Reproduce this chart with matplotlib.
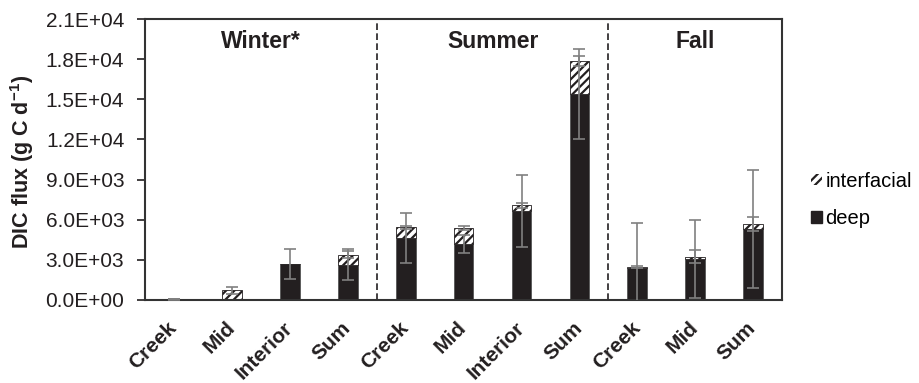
import numpy as np
import matplotlib
matplotlib.use('Agg')
import matplotlib.pyplot as plt
import matplotlib.transforms as mtransforms
from matplotlib.patches import Patch
from matplotlib.ticker import FuncFormatter

plt.rcParams['font.family'] = ['Liberation Sans', 'DejaVu Sans']
plt.rcParams['mathtext.fontset'] = 'custom'
plt.rcParams['mathtext.rm'] = 'Liberation Sans:bold'
plt.rcParams['mathtext.default'] = 'rm'
plt.rcParams['hatch.linewidth'] = 1.6

# DIC flux by site and season (g C per day)
sites = ['Creek', 'Mid', 'Interior', 'Sum',
         'Creek', 'Mid', 'Interior', 'Sum',
         'Creek', 'Mid', 'Sum']
seasons = ['Winter*', 'Summer', 'Fall']
season_sizes = [4, 4, 3]

deep = [40, 0, 2690, 2640, 4630, 4180, 6630, 15390, 2420, 3040, 5300]
interfacial = [10, 730, 0, 745, 800, 1200, 445, 2470, 50, 200, 355]
deep_err = [30, 0, 1150, 1150, 1900, 700, 2700, 3380, 3300, 2900, 4420]
interfacial_err = [10, 270, 0, 250, 100, 150, 200, 370, 50, 500, 530]

deep = np.array(deep)
interfacial = np.array(interfacial)
total = deep + interfacial
x = np.arange(len(sites))

fig = plt.figure(figsize=(9.19, 3.83), dpi=100)
ax = fig.add_axes([0.158, 0.217, 0.693, 0.733])

dark = '#231f20'
ax.bar(x, deep, width=0.34, color=dark, edgecolor='#555555', linewidth=0.6, zorder=2)
ax.bar(x, interfacial, width=0.34, bottom=deep, color='white', edgecolor=dark,
       hatch='////', linewidth=0.6, zorder=2)

# error bars for each stacked series
has_deep = np.array(deep_err) > 0
ax.errorbar(x[has_deep], deep[has_deep], yerr=np.array(deep_err)[has_deep], fmt='none',
            ecolor='#808080', elinewidth=1.2, capsize=4, capthick=1.2, zorder=3)
has_int = np.array(interfacial_err) > 0
ax.errorbar(x[has_int], total[has_int], yerr=np.array(interfacial_err)[has_int], fmt='none',
            ecolor='#808080', elinewidth=1.2, capsize=4, capthick=1.2, zorder=3)

# season separators and headings
edges = np.cumsum(season_sizes)
start = 0
for name, n in zip(seasons, season_sizes):
    ax.text(start + (n - 1) / 2, 19350, name, ha='center', va='center',
            fontsize=16.5, fontweight='bold', color=dark)
    start += n
for e in edges[:-1]:
    ax.axvline(e - 0.5, color=dark, linestyle=(0, (4, 2)), linewidth=1.2, zorder=1)

ax.set_xlim(-0.5, len(sites) - 0.5)
ax.set_ylim(0, 21000)
ax.set_yticks(np.arange(0, 21001, 3000))
ax.yaxis.set_major_formatter(FuncFormatter(lambda v, p: f'{v:.1E}'))
ax.tick_params(axis='y', labelsize=15, length=6, width=1.2, pad=9, colors=dark)
ax.set_xticks(x)
ax.set_xticklabels(sites, rotation=45, ha='right', rotation_mode='anchor',
                   fontsize=15, fontweight='bold', color=dark)
ax.tick_params(axis='x', length=0, pad=13)
shift = mtransforms.ScaledTranslation(-7 / 100, 0, fig.dpi_scale_trans)
for lbl in ax.get_xticklabels():
    lbl.set_transform(lbl.get_transform() + shift)
for s in ax.spines.values():
    s.set_linewidth(1.5)
    s.set_color('#333333')

ax.set_ylabel(r'DIC flux (g C d$^{-1}$)', fontsize=15.5, fontweight='bold', color=dark)
ax.yaxis.set_label_coords(-0.193, 0.49)
ax.yaxis.label.set_va('center')

handles = [Patch(facecolor='white', edgecolor=dark, hatch='////', linewidth=0),
           Patch(facecolor=dark, edgecolor=dark)]
fig.legend(handles, ['interfacial', 'deep'], loc='center left',
           bbox_to_anchor=(0.883, 0.478), frameon=False, fontsize=14.5, borderpad=0,
           borderaxespad=0, handlelength=0.5, handleheight=0.5, handletextpad=0.2,
           labelspacing=0.9)

fig.savefig('out.png', dpi=100)
